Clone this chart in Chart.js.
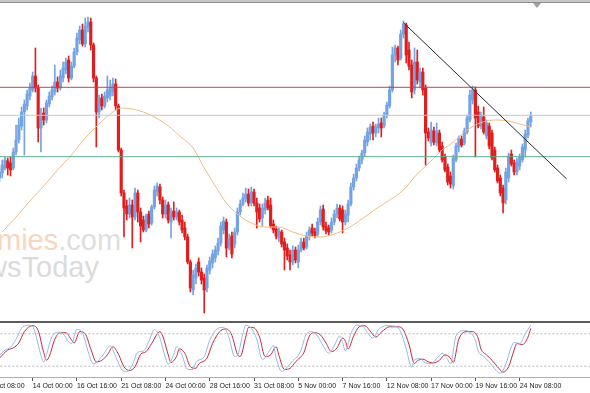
<!DOCTYPE html>
<html>
<head>
<meta charset="utf-8">
<script src="https://cdn.jsdelivr.net/npm/chart.js@4.4.1/dist/chart.umd.min.js"></script>
<style>
  html, body { margin:0; padding:0; background:#ffffff; }
  #stage { position:relative; width:590px; height:393px; overflow:hidden; background:#ffffff; }
  .wm { position:absolute; white-space:nowrap; font-family:'Liberation Sans', Arial, sans-serif; font-size:29px; line-height:29px; }
  #mainC { position:absolute; left:-13px; top:0; }
  #subC { position:absolute; left:-13px; top:321px; }
  #topBar { position:absolute; left:0; top:0; width:590px; height:2px; background:#c8c8c8; border-bottom:1px solid #8c8c8c; }
  #sep { position:absolute; left:0; top:321px; width:590px; height:2px; background:#5c5c5c; }
  #shift { position:absolute; left:533px; top:3px; width:0; height:0; border-left:4px solid transparent; border-right:4px solid transparent; border-top:5px solid #a0a0a0; }
</style>
</head>
<body>
<div id="stage">
  <div class="wm" style="left:-82px; top:226px;"><span style="color:#f6d6bf">economies</span><span style="color:#dedede">.com</span></div>
  <div class="wm" style="left:-51px; top:253px; color:#dbdbdb">NewsToday</div>
  <canvas id="mainC" width="606" height="322"></canvas>
  <canvas id="subC" width="606" height="72"></canvas>
  <div id="topBar"></div>
  <div id="sep"></div>
  <div id="shift"></div>
</div>
<script>
// ---- time axis (4-hour bars) ----
const tickLabels = ['9 Oct 08:00','14 Oct 00:00','16 Oct 16:00','21 Oct 08:00','24 Oct 00:00','28 Oct 16:00','31 Oct 08:00','5 Nov 00:00','7 Nov 16:00','12 Nov 08:00','17 Nov 00:00','19 Nov 16:00','24 Nov 08:00'];
const SLOTS = 219;      // bar slots visible in the window (incl. right chart shift)
const FIRST_BAR = 4;    // slot of the first candle listed below

// ---- candles (price units) ----
const open = [
222,227,232,239,237,232,248,260,274,288,
294,304,310,324,312,272,287,280,296,303,
308,318,312,322,330,340,322,334,348,360,
370,356,373,378,355,322,288,302,294,302,
304,308,316,294,250,207,194,186,195,183,
207,188,180,170,186,177,193,208,213,200,
186,195,178,189,183,188,180,172,163,138,
110,122,138,128,122,112,130,137,142,149,
157,170,178,153,164,156,168,188,196,201,
206,197,208,197,192,182,190,200,195,176,
171,162,168,158,152,145,138,150,138,150,
158,153,164,172,168,166,178,191,174,172,
170,178,186,192,190,178,185,196,213,222,
232,240,247,258,266,274,267,272,277,274,
285,294,310,345,352,342,366,375,350,335,
310,338,318,328,312,268,257,269,257,267,
254,243,233,224,214,240,253,261,257,268,
280,300,310,288,274,283,264,274,267,250,
232,222,212,200,222,246,237,228,234,240,
250,265,278];
const high = [
232,240,243,242,243,252,275,282,293,300,
310,317,328,352,315,292,292,300,308,314,
335,323,330,338,342,344,338,352,367,374,
376,382,383,382,357,324,305,306,308,324,
320,322,321,296,252,210,200,202,200,212,
210,192,184,186,189,195,214,217,216,203,
200,198,192,198,192,190,185,178,166,140,
130,136,142,132,126,135,143,150,154,162,
178,183,181,166,168,172,192,200,207,212,
211,213,211,202,196,196,202,204,202,180,
174,172,170,162,156,150,154,153,155,162,
162,168,173,176,172,182,194,195,178,175,
182,190,196,195,194,190,200,217,226,236,
244,250,264,272,276,278,276,282,282,288,
298,314,353,355,354,370,379,377,358,340,
352,350,332,332,315,272,278,273,277,270,
258,246,236,228,245,257,264,264,272,285,
310,314,313,294,288,293,280,277,270,253,
235,225,215,232,247,250,240,242,246,256,
270,282,288];
const low = [
218,222,230,225,224,230,245,257,270,245,
290,300,308,308,258,248,275,277,293,300,
305,308,310,318,326,318,320,332,345,356,
354,353,368,350,318,253,282,290,292,298,
300,304,290,248,204,163,180,182,152,180,
178,158,168,168,172,175,191,204,196,182,
182,177,162,180,180,175,167,160,136,108,
105,116,124,116,87,108,126,132,138,145,
154,166,143,150,142,152,165,185,194,198,
194,194,194,172,178,174,186,190,172,167,
161,158,153,130,140,130,135,137,132,148,
150,151,160,164,162,164,175,170,166,165,
167,175,182,179,167,175,178,194,210,219,
229,236,244,254,260,260,263,267,263,272,
282,292,308,338,335,340,362,337,330,302,
306,316,312,305,235,259,254,255,254,248,
238,228,215,212,211,238,248,253,255,266,
278,296,243,272,271,266,261,251,240,228,
217,204,187,196,218,234,225,225,230,238,
243,262,273];
const close = [
228,235,240,232,230,248,260,275,288,296,
306,312,324,312,272,285,280,297,304,310,
318,312,324,332,338,322,334,348,362,370,
356,374,378,355,322,288,302,294,304,310,
312,316,294,250,207,192,186,195,183,207,
188,174,170,184,176,193,210,214,200,186,
195,180,188,183,188,178,170,163,138,112,
125,132,128,120,110,132,139,146,150,157,
174,179,152,162,146,168,188,196,202,206,
197,208,197,188,181,192,197,192,174,170,
164,169,156,150,144,138,150,140,150,158,
152,164,170,167,164,178,190,173,169,168,
178,186,192,181,178,186,196,213,222,232,
240,247,260,268,273,267,273,276,272,285,
295,310,345,352,340,366,376,345,334,308,
338,320,328,310,267,262,270,258,269,250,
240,230,218,216,242,254,261,255,269,282,
305,310,282,274,285,268,277,254,242,230,
219,207,197,228,244,236,228,238,243,253,
266,279,284];

// ---- moving average, read at selected bars ----
const maBars   = [5,10,15,20,25,30,35,40,45,48,52,56,60,65,70,74,78,82,86,90,95,100,105,110,115,120,125,130,135,140,145,150,155,160,164,168,172,176,180,184,188,192,196];
const maValues = [168,183,199,214,230,245,262,276,288,292,291,288,283,274,262,252,232,214,197,186,177,173,173,168,164,163,166,172,181,191,200,210,226,239,250,258,268,275,279,280,279,276,273];

// ---- horizontal levels and trend line ----
const resistanceLevel = 312.7;
const middleLevel = 284.7;
const supportLevel = 243.3;
const trendBars = [150, 209];
const trendValues = [377.3, 221];

// ---- stochastic oscillator ----
const kBars = [4,6,8,10,12,14,16,17,19,20,21,23,25,27,29,30,32,34,36,38,40,42,44,46,48,50,52,54,56,58,60,62,64,65,67,68,70,72,74,75,78,80,83,85,87,89,90,92,93,95,97,99,101,103,104,106,108,110,112,113,115,117,119,121,123,125,127,128,129,131,133,135,137,139,141,144,147,149,151,153,154,156,158,160,162,164,166,167,169,172,174,176,177,179,181,183,185,187,189,190,192,194,196];
const kValues = [40,50,55,70,90,96,94,80,40,28,42,75,83,80,65,62,88,82,48,24,32,45,58,38,15,10,22,46,48,66,88,72,35,24,42,56,40,14,14,27,38,68,90,92,72,38,40,80,96,90,70,32,44,58,35,10,18,30,40,50,80,84,75,58,44,58,76,64,48,80,96,95,82,72,88,95,94,84,52,18,32,34,26,25,34,44,32,24,76,86,83,68,48,38,28,15,7,24,56,64,62,80,96];
const dBars = [4,7,9,11,13,16,18,20,21,22,24,26,28,30,31,33,35,37,39,41,43,45,47,49,51,53,55,57,59,62,63,65,66,68,69,71,73,75,76,79,81,84,86,88,90,91,93,94,96,98,100,102,104,105,107,109,111,113,114,116,118,120,122,124,126,128,129,130,132,134,136,138,140,142,145,148,150,152,154,155,157,159,161,163,165,167,168,170,173,175,177,178,180,182,184,186,188,190,191,193,195,196];
const dValues = [35,50,54,63,84,95,86,45,31,38,70,82,82,69,63,84,80,52,28,31,41,56,42,19,12,19,42,47,62,84,76,41,27,38,52,44,19,16,24,35,62,86,89,77,42,38,74,92,91,74,38,41,56,40,14,16,28,38,45,76,82,78,63,47,54,72,67,52,76,93,95,85,74,83,93,93,87,60,25,30,33,28,26,31,41,35,27,70,84,84,72,52,41,31,19,9,19,50,62,60,74,90];
const stochLevels = [80, 20];

// ---- build library data ----
const UP = '#74a3e3', DOWN = '#e11d1d';
const labels = Array.from({length: SLOTS}, (_, i) => (i % 16 === 0 && tickLabels[i / 16]) ? tickLabels[i / 16] : '');
function atBars(src) { const a = new Array(SLOTS).fill(null); src.forEach((v, k) => { a[FIRST_BAR + k] = v; }); return a; }
function sparse(bars, vals) { const a = new Array(SLOTS).fill(null); bars.forEach((b, k) => { a[b] = vals[k]; }); return a; }
function flat(v) { const a = new Array(SLOTS).fill(null); a[0] = v; a[SLOTS - 1] = v; return a; }

const wickData = atBars(low.map((l, k) => [l, high[k]]));
const bodyData = atBars(open.map((o, k) => { const c = close[k]; return o === c ? [o - 0.4, o + 0.4] : [Math.min(o, c), Math.max(o, c)]; }));
const barColors = atBars(open.map((o, k) => close[k] >= o ? UP : DOWN));

const lineBase = { type: 'line', pointRadius: 0, borderWidth: 1, spanGaps: true, fill: false };

new Chart(document.getElementById('mainC'), {
  type: 'bar',
  data: {
    labels: labels,
    datasets: [
      Object.assign({}, lineBase, { data: sparse(trendBars, trendValues), borderColor: '#2a2a2a', order: 0 }),
      Object.assign({}, lineBase, { data: flat(resistanceLevel), borderColor: '#c9404a', order: 1 }),
      Object.assign({}, lineBase, { data: flat(middleLevel), borderColor: '#c6c6c6', order: 1 }),
      Object.assign({}, lineBase, { data: flat(supportLevel), borderColor: '#5fae8e', order: 1 }),
      Object.assign({}, lineBase, { data: sparse(maBars, maValues), borderColor: '#f0bd85', cubicInterpolationMode: 'monotone', order: 2 }),
      { type: 'bar', data: bodyData, backgroundColor: barColors, barThickness: 2.5, grouped: false, borderWidth: 0, order: 3 },
      { type: 'bar', data: wickData, backgroundColor: barColors, barThickness: 1, grouped: false, borderWidth: 0, order: 4 }
    ]
  },
  options: {
    responsive: false, animation: false, devicePixelRatio: 1, events: [],
    layout: { padding: 0 },
    plugins: { legend: { display: false }, tooltip: { enabled: false } },
    scales: {
      x: { display: false, offset: true },
      y: { display: false, min: 78, max: 400 }
    }
  }
});

new Chart(document.getElementById('subC'), {
  type: 'line',
  data: {
    labels: labels,
    datasets: [
      Object.assign({}, lineBase, { data: flat(stochLevels[0]), borderColor: '#b8b8b8', borderDash: [2, 2] }),
      Object.assign({}, lineBase, { data: flat(stochLevels[1]), borderColor: '#b8b8b8', borderDash: [2, 2] }),
      Object.assign({}, lineBase, { data: sparse(kBars, kValues), borderColor: '#93b8e6', cubicInterpolationMode: 'monotone' }),
      Object.assign({}, lineBase, { data: sparse(dBars, dValues), borderColor: '#c3283a', cubicInterpolationMode: 'monotone' })
    ]
  },
  options: {
    responsive: false, animation: false, devicePixelRatio: 1, events: [],
    layout: { padding: { top: 2, left: 0, right: 0, bottom: 0 } },
    plugins: { legend: { display: false }, tooltip: { enabled: false } },
    scales: {
      x: {
        type: 'category', offset: true,
        grid: { drawOnChartArea: false, tickLength: 4, color: '#555555', offset: false },
        border: { display: true, color: '#b0b0b0' },
        ticks: {
          autoSkip: false, maxRotation: 0, minRotation: 0, align: 'start', padding: 1,
          color: '#222222', font: { family: "'Liberation Sans', Arial, sans-serif", size: 7 },
          callback: (v, i) => labels[i] ? labels[i] : null
        },
        afterFit: (s) => { s.height = 16; }
      },
      y: { display: false, min: 0, max: 100 }
    }
  }
});
</script>
</body>
</html>
